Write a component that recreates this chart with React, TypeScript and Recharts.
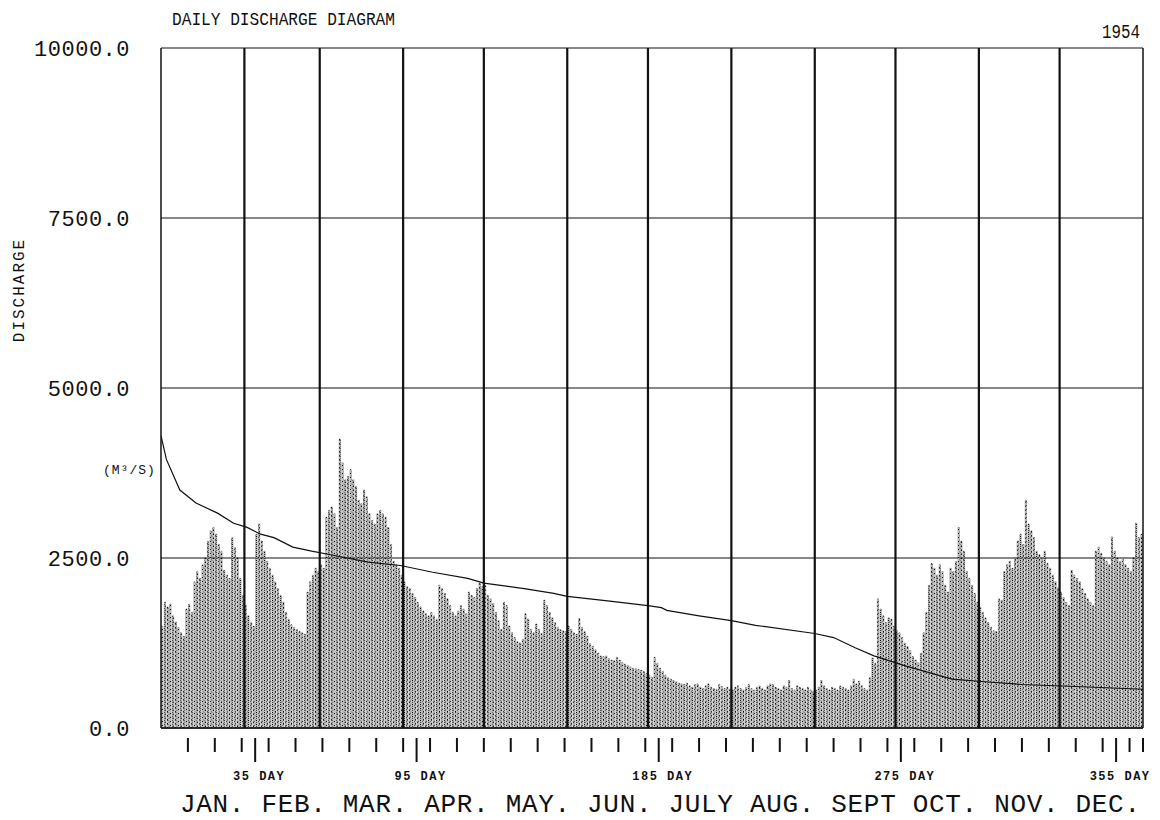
import React from 'react';
import { ComposedChart, Bar, Line, XAxis, YAxis, CartesianGrid, ReferenceLine } from 'recharts';

document.body.style.margin = '0';

// daily discharge (m3/s), 1954, one array per month
const JAN = [1500, 1850, 1780, 1820, 1650, 1560, 1480, 1400, 1350, 1750, 1820, 1700, 2150, 2300, 2200, 2400, 2500, 2750, 2900, 2950, 2850, 2700, 2600, 2320, 2250, 2200, 2800, 2650, 2500, 2200, 1950];
const FEB = [1800, 1650, 1550, 1500, 2850, 3000, 2750, 2600, 2450, 2350, 2250, 2150, 2050, 1950, 1850, 1700, 1600, 1520, 1480, 1450, 1420, 1400, 1380, 2000, 2150, 2250, 2350, 2300];
const MAR = [2400, 2350, 3100, 3200, 3250, 3150, 2950, 4250, 3900, 3650, 3700, 3800, 3650, 3550, 3350, 3300, 3500, 3400, 3150, 3050, 3000, 3150, 3200, 3150, 3100, 2950, 2700, 2450, 2400, 2350, 2250];
const APR = [2150, 2080, 2050, 1980, 1920, 1850, 1780, 1720, 1680, 1650, 1700, 1650, 1600, 2100, 2050, 1980, 1900, 1800, 1700, 1650, 1720, 1800, 1750, 1680, 2000, 1950, 1920, 2050, 2130, 2080];
const MAY = [2100, 1950, 1900, 1830, 1700, 1580, 1450, 1850, 1800, 1500, 1400, 1330, 1270, 1250, 1300, 1680, 1600, 1450, 1400, 1530, 1450, 1390, 1880, 1800, 1700, 1620, 1550, 1480, 1450, 1430, 1420];
const JUN = [1500, 1450, 1400, 1380, 1610, 1480, 1420, 1350, 1240, 1200, 1150, 1100, 1060, 1050, 1060, 1020, 1000, 990, 1040, 1000, 960, 940, 920, 900, 880, 870, 860, 850, 830, 800];
const JUL = [780, 750, 1040, 950, 880, 830, 780, 740, 720, 700, 680, 660, 650, 640, 660, 620, 600, 640, 650, 600, 580, 620, 650, 600, 580, 570, 640, 610, 580, 600, 570];
const AUG = [560, 600, 620, 580, 560, 600, 640, 580, 560, 600, 620, 580, 560, 620, 650, 640, 600, 580, 560, 620, 600, 700, 580, 560, 620, 600, 580, 560, 600, 560, 540];
const SEP = [560, 600, 700, 620, 580, 560, 600, 580, 560, 620, 600, 580, 560, 620, 720, 650, 690, 620, 580, 560, 740, 1030, 950, 1900, 1750, 1650, 1550, 1620, 1600, 1500];
const OCT = [1430, 1400, 1330, 1250, 1200, 1140, 1050, 1000, 960, 1100, 1400, 1700, 2100, 2420, 2350, 2250, 2400, 2300, 2100, 2000, 2350, 2300, 2450, 2950, 2750, 2600, 2300, 2200, 2100, 1980, 1850];
const NOV = [1780, 1700, 1620, 1550, 1480, 1430, 1420, 1900, 1880, 2300, 2400, 2450, 2350, 2500, 2750, 2850, 2700, 3350, 3000, 2900, 2800, 2600, 2550, 2500, 2600, 2420, 2350, 2250, 2150, 2060];
const DEC = [2000, 1920, 1850, 1800, 2320, 2250, 2200, 2150, 2050, 1980, 1900, 1850, 1800, 2600, 2660, 2570, 2500, 2450, 2400, 2810, 2600, 2500, 2450, 2500, 2400, 2350, 2300, 2500, 3010, 2800, 2850];

const MONTHS = [JAN, FEB, MAR, APR, MAY, JUN, JUL, AUG, SEP, OCT, NOV, DEC];
const MONTH_LABELS = 'JAN. FEB. MAR. APR. MAY. JUN. JULY AUG. SEPT OCT. NOV. DEC.';
const MONTH_STARTS = [31, 59, 90, 120, 151, 181, 212, 243, 273, 304, 334];

// duration curve, read at a few days
const CURVE_DAYS = [0, 2, 7, 13, 21, 27, 32, 37, 42, 49, 56, 64, 77, 89, 101, 114, 120, 135, 146, 151, 166, 181, 186, 188, 200, 212, 221, 243, 250, 258, 265, 277, 294, 306, 320, 340, 365];
const CURVE_Q = [4300, 3950, 3500, 3310, 3160, 3010, 2950, 2850, 2800, 2660, 2600, 2540, 2440, 2390, 2290, 2200, 2130, 2050, 1980, 1935, 1870, 1800, 1770, 1730, 1650, 1580, 1510, 1390, 1330, 1180, 1060, 910, 720, 680, 640, 610, 570];

const Y_TICKS = [0, 2500, 5000, 7500, 10000];
const DAY_TICKS = [10, 20, 30, 35, 40, 50, 60, 70, 80, 90, 95, 100, 110, 120, 130, 140, 150, 160, 170, 180, 185, 190, 200, 210, 220, 230, 240, 250, 260, 270, 275, 280, 290, 300, 310, 320, 330, 340, 350, 355, 360, 365];
const MARKED_DAYS = [35, 95, 185, 275, 355];

const daily = MONTHS.flat().map((q, i) => ({ t: i + 0.5, q }));
const curve = CURVE_DAYS.map((t, i) => ({ t, v: CURVE_Q[i] }));

const W = 1160;
const H = 820;
const PLOT_W = 982;
const BAR_W = PLOT_W / 365;
const MONO = '"Liberation Mono", "DejaVu Sans Mono", monospace';
const INK = '#111';

function ValueTick({ x, y, payload }: any) {
  return (
    <text x={x} y={y} dy={8} textAnchor="end" fontFamily={MONO} fontSize={22} letterSpacing={0.5} fill={INK}>
      {Number(payload.value).toFixed(1)}
    </text>
  );
}

function DayTick({ x, y, payload }: any) {
  const marked = MARKED_DAYS.includes(payload.value);
  return (
    <g>
      <line x1={x} x2={x} y1={y + 8} y2={y + (marked ? 32 : 22)} stroke={INK} strokeWidth={2} />
      {marked && (
        <text x={x + 4} y={y + 50} textAnchor="middle" fontFamily={MONO} fontSize={12} fontWeight="bold" letterSpacing={1.5} fill={INK}>
          {payload.value} DAY
        </text>
      )}
    </g>
  );
}

export default function App() {
  return (
    <div style={{ width: W, height: H, background: '#fff' }}>
      <ComposedChart width={W} height={H} data={daily} margin={{ top: 48, right: 17, bottom: 0, left: 0 }} barCategoryGap={0} barGap={0}>
        <defs>
          <pattern id="stipple" width={4} height={4} patternUnits="userSpaceOnUse">
            <rect width={4} height={4} fill="#fff" />
            <rect x={0} y={0} width={1} height={1} fill="#000" />
            <rect x={2} y={1} width={1} height={1} fill="#000" />
            <rect x={1} y={2} width={1} height={1} fill="#000" />
            <rect x={3} y={3} width={1} height={1} fill="#000" />
            <rect x={3} y={0} width={1} height={1} fill="#555" />
            <rect x={0} y={2} width={1} height={1} fill="#555" />
            <rect x={1} y={1} width={1} height={1} fill="#888" />
          </pattern>
        </defs>
        <CartesianGrid vertical={false} stroke={INK} strokeWidth={1} />
        <XAxis
          dataKey="t"
          type="number"
          domain={[0, 365]}
          allowDataOverflow
          ticks={DAY_TICKS}
          interval={0}
          tick={<DayTick />}
          tickLine={false}
          tickSize={0}
          axisLine={{ stroke: INK, strokeWidth: 1.5 }}
          height={92}
        />
        <YAxis
          domain={[0, 10000]}
          ticks={Y_TICKS}
          interval={0}
          tick={<ValueTick />}
          tickLine={false}
          tickSize={0}
          tickMargin={31}
          axisLine={{ stroke: INK, strokeWidth: 1.5 }}
          width={161}
        />
        <Bar dataKey="q" barSize={BAR_W} fill="url(#stipple)" stroke="#000" strokeWidth={0.35} isAnimationActive={false} />
        {MONTH_STARTS.map((d) => (
          <ReferenceLine key={d} x={d} stroke={INK} strokeWidth={2.2} />
        ))}
        <ReferenceLine x={365} stroke={INK} strokeWidth={1.5} />
        <Line data={curve} dataKey="v" type="linear" stroke={INK} strokeWidth={1.2} dot={false} isAnimationActive={false} />
        <text x={172} y={25} textLength={223} lengthAdjust="spacingAndGlyphs" fontFamily={MONO} fontSize={19} fill={INK}>DAILY DISCHARGE DIAGRAM</text>
        <text x={1102} y={38} textLength={38} lengthAdjust="spacingAndGlyphs" fontFamily={MONO} fontSize={21} fill={INK}>1954</text>
        <text x={0} y={0} transform="translate(24 290) rotate(-90)" textAnchor="middle" fontFamily={MONO} fontSize={16} letterSpacing={2} fill={INK}>DISCHARGE</text>
        <text x={103} y={474} fontFamily={MONO} fontSize={13} letterSpacing={1} fill={INK}>(M³/S)</text>
        <text x={180} y={812} textLength={960} lengthAdjust="spacing" fontFamily={MONO} fontSize={26} fill={INK}>{MONTH_LABELS}</text>
      </ComposedChart>
    </div>
  );
}
